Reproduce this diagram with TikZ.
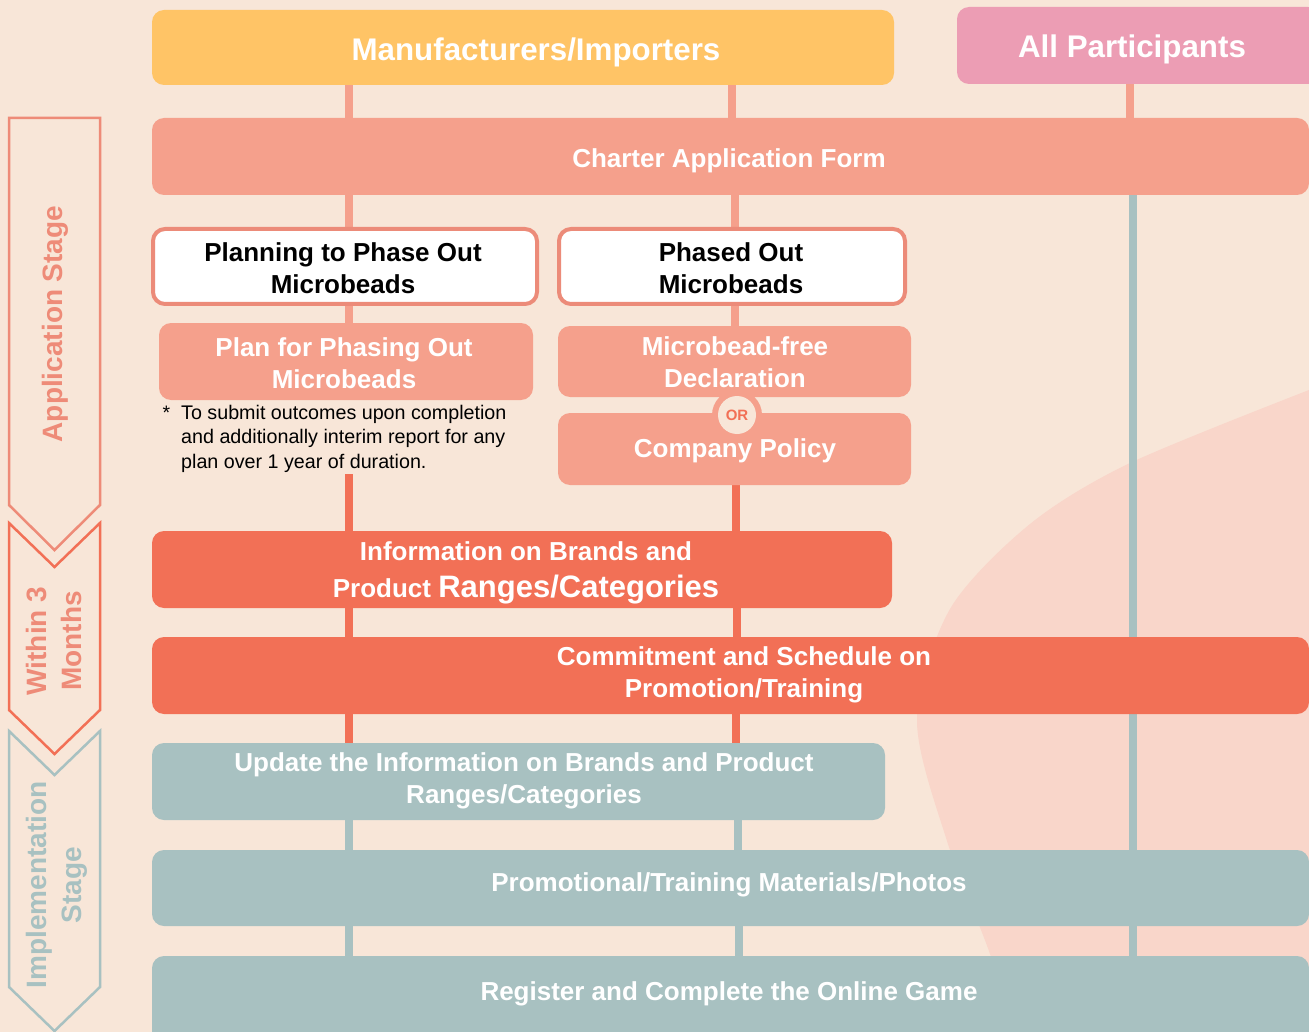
\documentclass[tikz,border=0pt]{standalone}
\usepackage{fontspec}
\setmainfont{Liberation Sans}
\definecolor{bgc}{HTML}{F8E6D8}
\definecolor{blobc}{HTML}{F9D6CA}
\definecolor{yellowc}{HTML}{FFC466}
\definecolor{pinkc}{HTML}{EC9DB4}
\definecolor{salmonc}{HTML}{F5A08C}
\definecolor{redc}{HTML}{F27056}
\definecolor{tealc}{HTML}{A8C1C1}
\definecolor{borderc}{HTML}{EC8B79}
\definecolor{labc}{HTML}{EE8B78}
\pgfdeclarelayer{back}
\pgfdeclarelayer{conn}
\pgfsetlayers{back,conn,main}
\begin{document}
\begin{tikzpicture}[x=1pt,y=-1pt,
  box/.style={rounded corners=12pt, inner sep=0pt, outer sep=0pt},
  wbox/.style={rounded corners=12pt, inner sep=0pt, outer sep=0pt, fill=white, draw=borderc, line width=4pt},
  txt/.style={text=white, font=\bfseries\fontsize{26}{32}\selectfont, align=center, inner sep=0pt},
  btxt/.style={text=black, font=\bfseries\fontsize{26}{32}\selectfont, align=center, inner sep=0pt},
  bigtxt/.style={text=white, font=\bfseries\fontsize{31.3}{36}\selectfont, align=center, inner sep=0pt},
  sidetxt/.style={font=\bfseries\fontsize{28}{35}\selectfont, align=center, inner sep=0pt, rotate=90},
  csal/.style={draw=salmonc, line width=8.5pt},
  cred/.style={draw=redc, line width=8.5pt},
  cteal/.style={draw=tealc, line width=8pt},
  chev/.style={line width=2.5pt, line join=miter}
]
\useasboundingbox (0,0) rectangle (1309,1032);
\begin{pgfonlayer}{back}
\fill[bgc] (0,0) rectangle (1309,1032);
\fill[blobc] plot[smooth] coordinates {(1309,390) (1130,463) (1030,524) (950,609) (917,720) (947,841) (990,954) (1012,1032)} -- (1309,1032) -- cycle;
\end{pgfonlayer}

% column coordinates
\coordinate (L) at (349,0);
\coordinate (M) at (735,0);
\coordinate (R) at (1133,0);

% boxes
\node[box, fill=yellowc, minimum width=742pt, minimum height=75pt] (manuf) at (523,47.5) {};
\node[box, fill=pinkc, minimum width=363pt, minimum height=77pt] (allp) at (1138.5,45.5) {};
\node[box, fill=salmonc, minimum width=1157pt, minimum height=77pt] (charter) at (730.5,156.5) {};
\node[wbox, minimum width=384pt, minimum height=75pt] (planning) at (345,266.5) {};
\node[wbox, minimum width=346pt, minimum height=75pt] (phased) at (732,266.5) {};
\node[box, fill=salmonc, minimum width=374pt, minimum height=77pt] (planfor) at (346,361.5) {};
\node[box, fill=salmonc, minimum width=353pt, minimum height=71pt] (mfree) at (734.5,361.5) {};
\node[box, fill=salmonc, minimum width=353pt, minimum height=72pt] (policy) at (734.5,449) {};
\node[circle, fill=salmonc, minimum size=50pt, inner sep=0pt] (orring) at (737,415) {};
\node[circle, fill=bgc, minimum size=38pt, inner sep=0pt, text=redc, font=\bfseries\fontsize{15}{15}\selectfont] (or) at (737,415) {OR};
\node[box, fill=redc, minimum width=740pt, minimum height=77pt] (info) at (522,569.5) {};
\node[box, fill=redc, minimum width=1157pt, minimum height=77pt] (commit) at (730.5,675.5) {};
\node[box, fill=tealc, minimum width=733pt, minimum height=77pt] (update) at (518.5,781.5) {};
\node[box, fill=tealc, minimum width=1157pt, minimum height=76pt] (promo) at (730.5,888) {};
\node[box, fill=tealc, minimum width=1157pt, minimum height=90pt] (register) at (730.5,1001) {};

% texts
\node[bigtxt] (manuf-t) at (536,52) {Manufacturers/Importers};
\node[bigtxt] (allp-t) at (1132,49) {All Participants};
\node[txt] (charter-t) at (729,161) {Charter Application Form};
\node[btxt] (planning-t) at (343,268) {Planning to Phase Out\\Microbeads};
\node[btxt] (phased-t) at (731,268) {Phased Out\\Microbeads};
\node[txt] (planfor-t) at (344,363) {Plan for Phasing Out\\Microbeads};
\node[txt] (mfree-t) at (735,362) {Microbead-free\\Declaration};
\node[txt] (policy-t) at (735,451) {Company Policy};
\node[txt, font=\bfseries\fontsize{26}{37.7}\selectfont] (info-t) at (526,573) {Information on Brands and\\Product {\fontsize{31}{37.7}\selectfont Ranges/Categories}};
\node[txt] (commit-t) at (744,674.5) {Commitment and Schedule on\\Promotion/Training};
\node[txt] (update-t) at (524,780.5) {Update the Information on Brands and Product\\Ranges/Categories};
\node[txt] (promo-t) at (729,885) {Promotional/Training Materials/Photos};
\node[txt] (register-t) at (729,994) {Register and Complete the Online Game};

% footnote
\node[anchor=base, inner sep=0pt, font=\fontsize{19.5}{24.5}\selectfont] (star) at (166.5,419) {*};
\node[anchor=north west, inner sep=0pt, align=left, font=\fontsize{19.7}{24.5}\selectfont] (note) at (181,405) {To submit outcomes upon completion\\and additionally interim report for any\\plan over 1 year of duration.};
\coordinate (noteend) at (349,474);

% side chevrons
\draw[chev, draw=labc] (9,118) -- (100,118) -- (100,505) -- (54.5,550) -- (9,505) -- cycle;
\draw[chev, draw=redc] (9,523) -- (54.5,567) -- (100,523) -- (100,710) -- (54.5,754) -- (9,710) -- cycle;
\draw[chev, draw=tealc] (9,731) -- (54.5,775) -- (100,731) -- (100,987) -- (54.5,1031) -- (9,987) -- cycle;
\node[sidetxt, text=labc] (app-t) at (55.7,324) {Application Stage};
\node[sidetxt, text=labc] (within-t) at (54.3,641) {Within 3\\Months};
\node[sidetxt, text=tealc] (impl-t) at (57.2,885) {Implementation\\Stage};

% connectors
\begin{pgfonlayer}{conn}
\draw[csal] (manuf.south -| L) -- (charter.north -| L);
\draw[csal] ([xshift=-3pt]manuf.south -| M) -- ([xshift=-3pt]charter.north -| M);
\draw[csal] (charter.south -| L) -- (planning.north -| L);
\draw[csal] (charter.south -| M) -- (phased.north -| M);
\draw[csal] (planning.south -| L) -- (planfor.north -| L);
\draw[csal] (phased.south -| M) -- (mfree.north -| M);
\draw[cred] (noteend) -- (info.north -| L);
\draw[cred] ([xshift=1pt]policy.south -| M) -- ([xshift=1pt]info.north -| M);
\draw[cred] (info.south -| L) -- (commit.north -| L);
\draw[cred] ([xshift=2pt]info.south -| M) -- ([xshift=2pt]commit.north -| M);
\draw[cred] (commit.south -| L) -- (update.north -| L);
\draw[cred] ([xshift=1pt]commit.south -| M) -- ([xshift=1pt]update.north -| M);
\draw[cteal] (update.south -| L) -- (promo.north -| L);
\draw[cteal] ([xshift=3pt]update.south -| M) -- ([xshift=3pt]promo.north -| M);
\draw[cteal] (promo.south -| L) -- (register.north -| L);
\draw[cteal] ([xshift=4pt]promo.south -| M) -- ([xshift=4pt]register.north -| M);
\draw[csal] ([xshift=-3pt]allp.south -| R) -- ([xshift=-3pt]charter.north -| R);
\draw[cteal] (charter.south -| R) -- (commit.north -| R);
\draw[cteal] (commit.south -| R) -- (promo.north -| R);
\draw[cteal] (promo.south -| R) -- (register.north -| R);
\end{pgfonlayer}
\end{tikzpicture}
\end{document}
